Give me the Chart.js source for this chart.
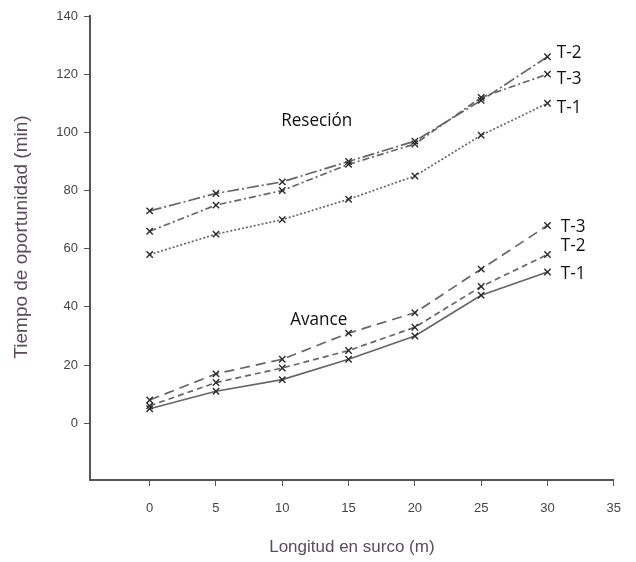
<!DOCTYPE html>
<html>
<head>
<meta charset="utf-8">
<script src="https://cdn.jsdelivr.net/npm/chart.js@4"></script>
<style>
  body { margin: 0; background: #fff; }
  canvas { display: block; }
</style>
</head>
<body>
<canvas id="grafica" width="636" height="562"></canvas>
<script>
// datos
const longitudes = [0, 5, 10, 15, 20, 25, 30];

// Resecion
const resT1 = [58, 65, 70, 77, 85, 99, 110];
const resT2 = [73, 79, 83, 90, 97, 111, 126];
const resT3 = [66, 75, 80, 89, 96, 112, 120];

// Avance
const avT1 = [5, 11, 15, 22, 30, 44, 52];
const avT2 = [6, 14, 19, 25, 33, 47, 58];
const avT3 = [8, 17, 22, 31, 38, 53, 68];

// marcas de los ejes
const xTicks = [0, 5, 10, 15, 20, 25, 30, 35];
const yTicks = [0, 20, 40, 60, 80, 100, 120, 140];

// textos dentro de la grafica (en coordenadas de datos)
const notas = [
    { texto: 'Reseción', x: 12.6, y: 104.2, align: 'center' },
    { texto: 'Avance', x: 12.75, y: 35.5, align: 'center' },
    { texto: 'T-2', x: 30.7, y: 127.5, align: 'left' },
    { texto: 'T-3', x: 30.7, y: 118.5, align: 'left' },
    { texto: 'T-1', x: 30.7, y: 108.5, align: 'left' },
    { texto: 'T-3', x: 31.0, y: 67.5, align: 'left' },
    { texto: 'T-2', x: 31.0, y: 61, align: 'left' },
    { texto: 'T-1', x: 31.0, y: 51.5, align: 'left' }
];

const tituloY = 'Tiempo de oportunidad (min)';

function puntos(valores) {
    return longitudes.map((x, i) => ({ x: x, y: valores[i] }));
}

function serie(valores, dash) {
    return {
        data: puntos(valores),
        showLine: true,
        borderColor: '#666',
        borderWidth: 1.7,
        borderDash: dash,
        pointStyle: 'crossRot',
        pointRadius: 4.5,
        pointBorderColor: '#2a2a2a',
        pointBorderWidth: 1.4,
        pointBackgroundColor: '#2a2a2a'
    };
}

const ejeColor = '#555';
const tituloColor = '#5d4b5c';

// dibuja los textos de las curvas y el titulo vertical
const notasPlugin = {
    id: 'notas',
    afterDatasetsDraw(chart) {
        const ctx = chart.ctx;
        const sx = chart.scales.x;
        const sy = chart.scales.y;
        ctx.save();
        ctx.fillStyle = '#111';
        ctx.font = '19px "Open Sans"';
        ctx.textBaseline = 'middle';
        notas.forEach(n => {
            ctx.save();
            ctx.translate(sx.getPixelForValue(n.x), sy.getPixelForValue(n.y));
            ctx.scale(0.9, 1);
            ctx.textAlign = n.align;
            ctx.fillText(n.texto, 0, 0);
            ctx.restore();
        });
        ctx.restore();

        // titulo del eje y
        ctx.save();
        ctx.translate(22, (sy.top + sy.bottom) / 2 - 11);
        ctx.rotate(-Math.PI / 2);
        ctx.fillStyle = tituloColor;
        ctx.font = '19px "Liberation Sans"';
        ctx.textAlign = 'center';
        ctx.textBaseline = 'middle';
        ctx.fillText(tituloY, 0, 0);
        ctx.restore();
    }
};

new Chart(document.getElementById('grafica'), {
    type: 'scatter',
    data: {
        datasets: [
            serie(resT2, [12, 3, 2, 3]),
            serie(resT3, [7, 3, 2, 3]),
            serie(resT1, [2, 2]),
            serie(avT3, [10, 6]),
            serie(avT2, [6, 4]),
            serie(avT1, [])
        ]
    },
    options: {
        responsive: false,
        animation: false,
        layout: { padding: { left: 6, top: 16, right: 14, bottom: 0 } },
        plugins: {
            legend: { display: false },
            tooltip: { enabled: false }
        },
        scales: {
            x: {
                type: 'linear',
                min: -4.5,
                max: 35,
                afterBuildTicks: s => { s.ticks = xTicks.map(v => ({ value: v })); },
                afterFit: s => { s.height = 82; },
                grid: { drawOnChartArea: false, drawTicks: true, tickLength: 6, color: ejeColor },
                border: { display: true, color: ejeColor, width: 2 },
                ticks: { color: '#444', padding: 15, font: { family: 'Liberation Sans', size: 13 } },
                title: {
                    display: true,
                    text: 'Longitud en surco (m)',
                    color: tituloColor,
                    padding: { top: 4, bottom: 4 },
                    font: { family: 'Liberation Sans', size: 17 }
                }
            },
            y: {
                type: 'linear',
                min: -19.5,
                max: 140,
                afterBuildTicks: s => { s.ticks = yTicks.map(v => ({ value: v })); },
                afterFit: s => { s.width = 84; },
                grid: { drawOnChartArea: false, drawTicks: true, tickLength: 6, color: ejeColor },
                border: { display: true, color: ejeColor, width: 2 },
                ticks: { color: '#444', padding: 6, font: { family: 'Liberation Sans', size: 13 } }
            }
        }
    },
    plugins: [notasPlugin]
});
</script>
</body>
</html>
